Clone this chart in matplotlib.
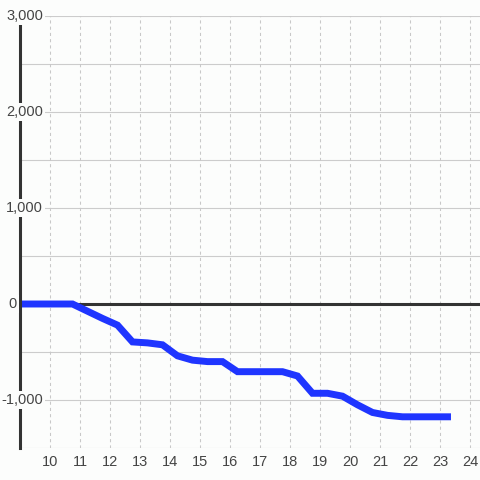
import matplotlib
matplotlib.use('Agg')
import matplotlib.pyplot as plt

plt.rcParams['font.family'] = ['Liberation Sans', 'DejaVu Sans']

# Datos
horas = [9.0, 9.75, 10.25, 10.75, 11.25, 11.75, 12.25, 12.75, 13.25, 13.75,
         14.25, 14.75, 15.25, 15.75, 16.25, 16.75, 17.25, 17.75, 18.25, 18.75,
         19.25, 19.75, 20.25, 20.75, 21.25, 21.75, 22.25, 22.75, 23.25]
valores = [0, 0, 0, 0, -75, -150, -220, -395, -405, -425,
           -540, -585, -600, -600, -705, -705, -705, -705, -750, -930,
           -930, -960, -1050, -1130, -1160, -1175, -1175, -1175, -1175]
x_ticks = list(range(10, 25))
y_ticks = [-1000, 0, 1000, 2000, 3000]
y_grid = [-1500, -1000, -500, 0, 500, 1000, 1500, 2000, 2500, 3000]

bg = '#fcfdfc'
W = 480.0

fig = plt.figure(figsize=(4.8, 4.8), dpi=100, facecolor=bg)
ax = fig.add_axes([20 / W, 1 - 448 / W, 460 / W, 432 / W], facecolor=bg)

ax.set_xlim(9, 9 + 460 / 30)
ax.set_ylim(-1500, 3000)

# Cuadricula
for y in y_grid:
    ax.axhline(y, color='#cccccc', lw=0.8, zorder=1)
for x in x_ticks:
    ax.axvline(x, color='#c8c8c8', lw=0.75, ls=(0, (3, 3)), zorder=1)

ax.axhline(0, color='#333333', lw=2.2, zorder=2)

ax.plot(horas, valores, color='#1f35ff', lw=5.0, solid_capstyle='projecting',
        solid_joinstyle='miter', clip_on=False, zorder=3)

for s in ['top', 'right', 'bottom']:
    ax.spines[s].set_visible(False)
ax.spines['left'].set_color('#333333')
ax.spines['left'].set_linewidth(2.2)
ax.spines['left'].set_zorder(4)

ax.set_xticks(x_ticks)
ax.set_xticklabels([str(t) for t in x_ticks])
ax.tick_params(axis='x', length=0, pad=5, labelsize=10.5, labelcolor='#444444')
ax.set_yticks([])

# Etiquetas del eje Y con fondo
for y in y_ticks:
    label = f"{y:,}"
    xr = 17 if y == 0 else 43
    ax.text((xr - 20) / 460, (y + 1500) / 4500, label, transform=ax.transAxes,
            ha='right', va='center', fontsize=10.5, color='#444444', zorder=5,
            clip_on=False,
            bbox=dict(boxstyle='square,pad=0.15', fc=bg, ec='none'))

fig.savefig('out.png', dpi=100, facecolor=bg)
